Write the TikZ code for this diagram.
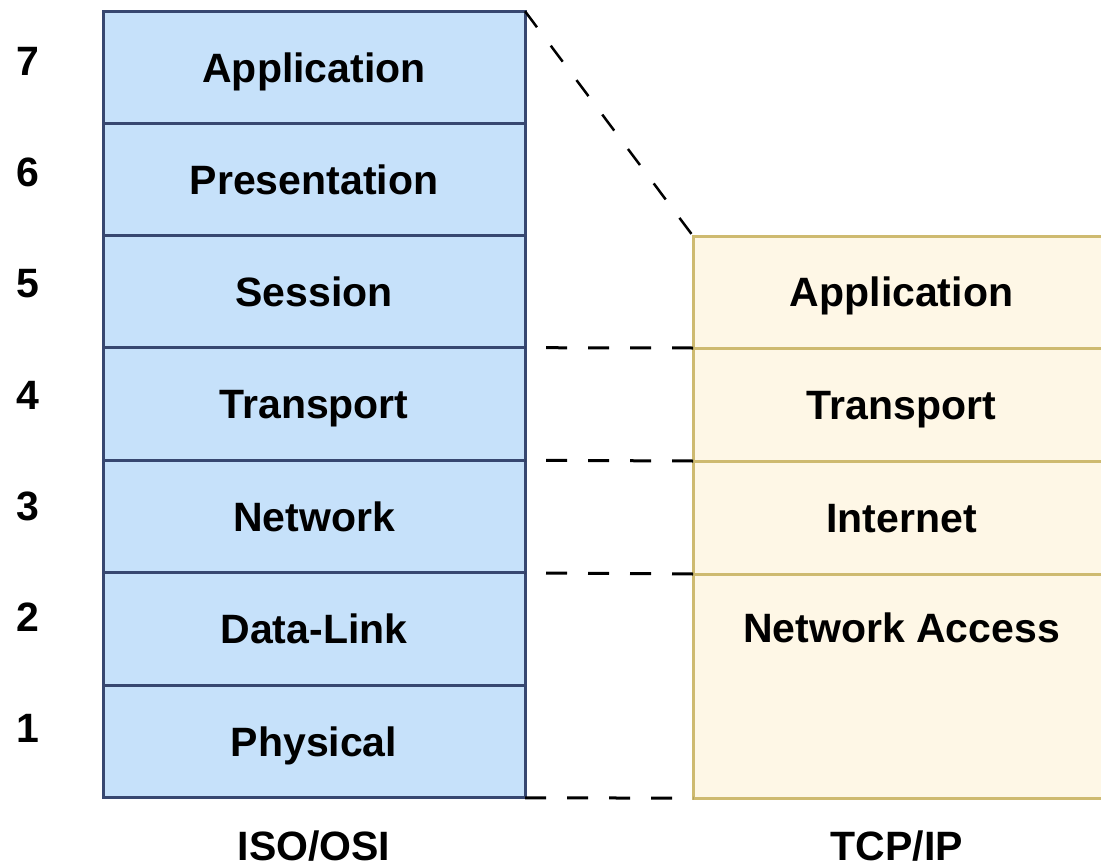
\documentclass[tikz,border=0pt]{standalone}
\usepackage{fontspec}
\setmainfont{Liberation Sans}
\definecolor{osifill}{RGB}{198,225,250}
\definecolor{osiline}{RGB}{55,71,112}
\definecolor{tcpfill}{RGB}{254,247,230}
\definecolor{tcpline}{RGB}{206,186,112}
\begin{document}
\begin{tikzpicture}[x=1pt,y=-1pt,
  lbl/.style={font=\fontsize{41}{49}\selectfont\bfseries, text height=29.5pt, text depth=0pt, inner sep=0pt, outer sep=0pt},
  osi/.style={lbl, draw=osiline, fill=osifill, line width=3pt, minimum width=422pt, minimum height=112.57pt},
  tcp/.style={lbl, draw=tcpline, fill=tcpfill, line width=3pt, minimum width=417pt},
  link/.style={draw=black, line width=3pt, dash pattern=on 21pt off 21pt},
  slant/.style={draw=black, line width=2.5pt, dash pattern=on 20pt off 23pt},
  num/.style={lbl}]
\useasboundingbox (0,0) rectangle (1101,867);
\clip (0,0) rectangle (1101,867);

% ISO/OSI stack, layer 7 at the top
\node[osi] (l7) at (314,67.5)  {Application};
\node[osi] (l6) at (314,179.5) {Presentation};
\node[osi] (l5) at (314,291.4) {Session};
\node[osi] (l4) at (314,404.0) {Transport};
\node[osi] (l3) at (314,516.6) {Network};
\node[osi] (l2) at (314,629.1) {Data-Link};
\node[osi] (l1) at (314,741.7) {Physical};

% layer numbers
\node[num] (n7) at (28,61)  {7};
\node[num] (n6) at (28,172) {6};
\node[num] (n5) at (28,283) {5};
\node[num] (n4) at (28,395) {4};
\node[num] (n3) at (28,506) {3};
\node[num] (n2) at (28,617) {2};
\node[num] (n1) at (28,728) {1};

% TCP/IP stack
\node[tcp, minimum height=112pt]   (tapp) at (901.5,292)   {Application};
\node[tcp, minimum height=113pt]   (ttr)  at (901.5,404.5) {Transport};
\node[tcp, minimum height=113pt]   (tin)  at (901.5,517.5) {Internet};
\node[tcp, minimum height=224pt]   (tna)  at (901.5,686)   {};
\node[lbl] (tnatext) at (901.5,627.5) {Network Access};

% correspondence between the two models
\draw[slant] (l7.north east) -- (tapp.north west);
\draw[link] (tapp.south west) -- (l5.south east);
\draw[link] (ttr.south west) -- (l4.south east);
\draw[link] (tin.south west) -- (l3.south east);
\draw[link] (l1.south east) -- (tna.south west);

% captions
\node[lbl] (osicap) at (314,845.5) {ISO/OSI};
\node[lbl] (tcpcap) at (897,845.5) {TCP/IP};
\end{tikzpicture}
\end{document}
